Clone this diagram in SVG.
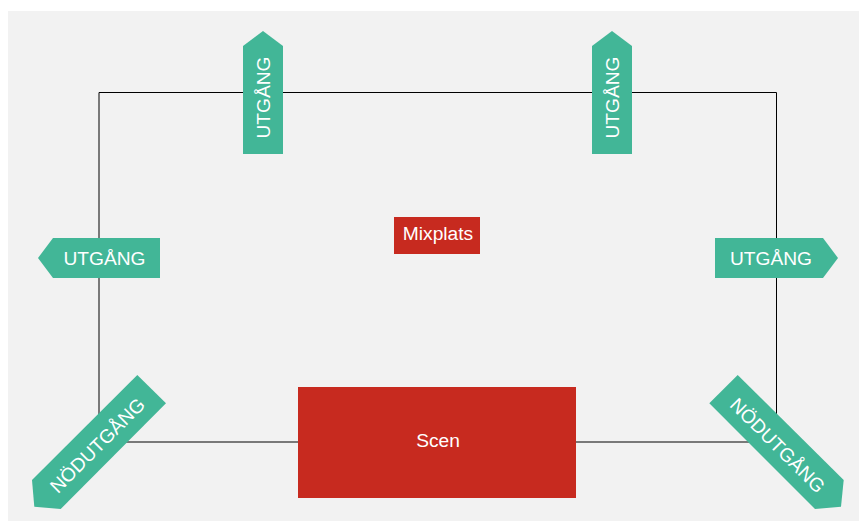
<svg xmlns="http://www.w3.org/2000/svg" width="859" height="521" viewBox="0 0 859 521">
<style>
.g{fill:#42b697}
.r{fill:#c72a1f}
text{font-family:"Liberation Sans",Arial,sans-serif;font-size:19.2px;fill:#fff;text-anchor:middle}
</style>
<rect x="8" y="11" width="851" height="510" fill="#f2f2f2"/>
<g id="connectors"><path d="M99 92.500H776.500V442H99Z" fill="none" stroke="#000" stroke-width="1"/></g>
<g id="exit-top-left"><polygon class="g" points="243,46 263,31 283,46 283,154 243,154"/><text transform="translate(270,97.500) rotate(-90)">UTGÅNG</text></g>
<g id="exit-top-right"><polygon class="g" points="592,46 612,31 632,46 632,154 592,154"/><text transform="translate(619,97.500) rotate(-90)">UTGÅNG</text></g>
<g id="exit-left"><polygon class="g" points="38,258 53,238 160,238 160,278 53,278"/><text x="104.500" y="264.500">UTGÅNG</text></g>
<g id="exit-right"><polygon class="g" points="715,238 823,238 838,258 823,278 715,278"/><text x="771" y="264.500">UTGÅNG</text></g>
<g id="emergency-left"><polygon class="g" points="137.300,375 166,403.300 60.700,509 34.300,506.700 32,480"/><text transform="translate(97.500,445.500) rotate(-45)" dy="6.500">NÖDUTGÅNG</text></g>
<g id="emergency-right"><polygon class="g" points="737.700,375 709.300,403.300 815,509 841,506.700 843.700,480"/><text transform="translate(777.500,445.500) rotate(45)" dy="6.500">NÖDUTGÅNG</text></g>
<g id="mixplats"><rect class="r" x="394" y="217" width="86" height="37"/><text x="438" y="240">Mixplats</text></g>
<g id="scen"><rect class="r" x="298" y="387" width="278" height="111"/><text x="438" y="446.500">Scen</text></g>
</svg>
